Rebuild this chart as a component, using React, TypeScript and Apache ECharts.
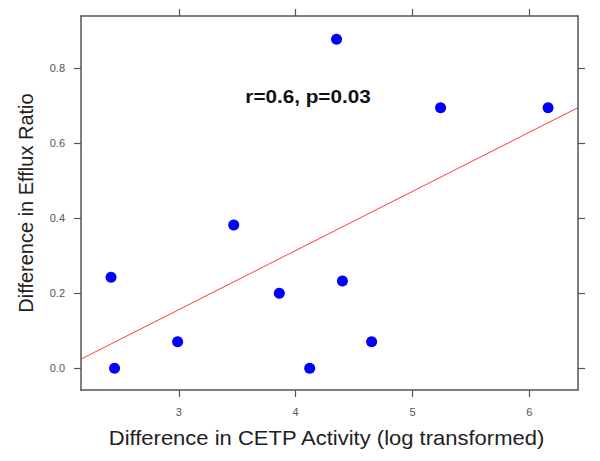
import React, { useEffect, useRef } from "react";
import * as echarts from "echarts";

const cetpDiff = [2.42, 2.45, 2.99, 3.47, 3.86, 4.12, 4.35, 4.40, 4.65, 5.24, 6.16];
const effluxDiff = [0.243, 0.0, 0.071, 0.382, 0.2, 0.0, 0.878, 0.233, 0.071, 0.695, 0.695];
const xTicks = [3, 4, 5, 6];
const yTicks = [0.0, 0.2, 0.4, 0.6, 0.8];
const xRange = [2.163, 6.416];
const yRange = [-0.058, 0.94];
const fitIntercept = -0.317;
const fitSlope = 0.1578;
const statText = "r=0.6, p=0.03";
const xTitle = "Difference in CETP Activity (log transformed)";
const yTitle = "Difference in Efflux Ratio";

const FONT = "Liberation Sans, Arial, sans-serif";

export default function App() {
  const ref = useRef<HTMLDivElement>(null);
  useEffect(() => {
    if (!ref.current) return;
    const chart = echarts.init(ref.current, null, { renderer: "svg" });
    const frameLine = { show: true, onZero: false, lineStyle: { color: "#555", width: 1.5 } };
    const tick = (vals: number[]) => ({
      show: true,
      inside: false,
      length: 7,
      customValues: vals,
      lineStyle: { color: "#555", width: 1.2 },
    });
    const points = cetpDiff.map((x, i) => [x, effluxDiff[i]]);
    const fit = xRange.map((x) => [x, fitIntercept + fitSlope * x]);
    chart.setOption({
      animation: false,
      backgroundColor: "#fff",
      textStyle: { fontFamily: FONT },
      grid: { left: 69, top: 8, right: 14, bottom: 63, containLabel: false },
      xAxis: [
        {
          type: "value",
          position: "bottom",
          min: xRange[0],
          max: xRange[1],
          axisLine: frameLine,
          axisTick: tick(xTicks),
          splitLine: { show: false },
          axisLabel: {
            customValues: xTicks,
            formatter: (v: number) => String(v),
            color: "#555",
            fontSize: 11,
            margin: 16,
            fontFamily: FONT,
          },
        },
        {
          type: "value",
          position: "top",
          min: xRange[0],
          max: xRange[1],
          axisLine: frameLine,
          axisTick: tick(xTicks),
          splitLine: { show: false },
          axisLabel: { show: false, customValues: xTicks },
        },
      ],
      yAxis: [
        {
          type: "value",
          position: "left",
          min: yRange[0],
          max: yRange[1],
          axisLine: frameLine,
          axisTick: tick(yTicks),
          splitLine: { show: false },
          axisLabel: {
            customValues: yTicks,
            formatter: (v: number) => v.toFixed(1),
            color: "#555",
            fontSize: 11,
            margin: 16,
            fontFamily: FONT,
          },
          name: yTitle,
          nameLocation: "middle",
          nameGap: 45,
          nameTextStyle: { fontSize: 20, color: "#222", fontFamily: FONT },
        },
        {
          type: "value",
          position: "right",
          min: yRange[0],
          max: yRange[1],
          axisLine: frameLine,
          axisTick: tick(yTicks),
          splitLine: { show: false },
          axisLabel: { show: false, customValues: yTicks },
        },
      ],
      series: [
        {
          type: "line",
          data: fit,
          symbol: "none",
          lineStyle: { color: "#ff3b3b", width: 1 },
          silent: true,
          z: 1,
        },
        {
          type: "scatter",
          data: points,
          symbol: "circle",
          symbolSize: 11,
          itemStyle: { color: "#0000ff", opacity: 1 },
          z: 2,
        },
      ],
      graphic: [
        {
          type: "text",
          x: 300,
          y: 89,
          scaleX: 1.15,
          style: {
            text: statText,
            font: `bold 18px ${FONT}`,
            fill: "#111",
            textAlign: "center",
            textVerticalAlign: "middle",
          },
        },
        {
          type: "text",
          x: 318.5,
          y: 430,
          scaleX: 1.1,
          style: {
            text: xTitle,
            font: `20px ${FONT}`,
            fill: "#222",
            textAlign: "center",
            textVerticalAlign: "middle",
          },
        },
      ],
    });
    return () => chart.dispose();
  }, []);
  return <div ref={ref} style={{ width: 584, height: 445 }} />;
}
